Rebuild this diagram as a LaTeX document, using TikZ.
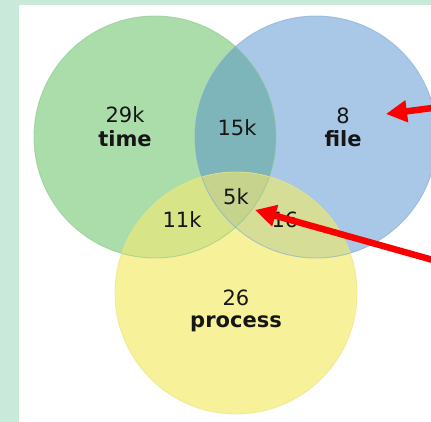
\documentclass[tikz,border=0pt]{standalone}
\usepackage{fontspec}
\setmainfont{DejaVu Sans}
\usetikzlibrary{arrows.meta}
\definecolor{bgside}{RGB}{201,233,218}
\definecolor{cg}{RGB}{171,221,171}
\definecolor{cb}{RGB}{169,200,232}
\definecolor{cy}{RGB}{247,242,154}
\definecolor{cgb}{RGB}{126,181,186}
\definecolor{cgy}{RGB}{216,228,136}
\definecolor{cby}{RGB}{213,221,150}
\definecolor{call}{RGB}{198,211,140}
\definecolor{eg}{RGB}{140,200,140}
\definecolor{eb}{RGB}{130,170,215}
\definecolor{ey}{RGB}{232,228,130}
\definecolor{txt}{RGB}{22,22,22}
\definecolor{arrowred}{RGB}{250,0,0}
\tikzset{
  vset/.style={circle, minimum size=242pt, inner sep=0pt, draw=#1, line width=0.9pt},
  cnt/.style={font=\fontsize{21}{23}\selectfont, text=txt, inner sep=0pt},
  lbl/.style={font=\fontsize{21}{23}\selectfont\bfseries, text=txt, inner sep=0pt},
  pointer/.style={draw=arrowred, line width=6.5pt, -{Triangle[length=21pt,width=21pt]}}
}
\def\cG{(155,137) circle[radius=121pt]}
\def\cB{(316,137) circle[radius=121pt]}
\def\cY{(236,293) circle[radius=121pt]}
\begin{document}
\begin{tikzpicture}[x=1pt,y=-1pt]
\useasboundingbox (0,0) rectangle (431,422);
\fill[bgside] (0,0) rectangle (431,422);
\fill[white] (19,5) rectangle (431,422);
\begin{scope}
\clip (19,5) rectangle (431,422);
\fill[cg] \cG;
\fill[cb] \cB;
\fill[cy] \cY;
\begin{scope}\clip \cG; \fill[cgb] \cB;\end{scope}
\begin{scope}\clip \cG; \fill[cgy] \cY;\end{scope}
\begin{scope}\clip \cB; \fill[cby] \cY;\end{scope}
\begin{scope}\clip \cG; \clip \cB; \fill[call] \cY;\end{scope}
\node[vset=eg, draw opacity=0.6] (time) at (155,137) {};
\node[vset=eb, draw opacity=0.6] (file) at (316,137) {};
\node[vset=ey, draw opacity=0.6] (process) at (236,293) {};
\end{scope}
\node[cnt] (n29) at (125,115) {29k};
\node[lbl] (ltime) at (125,139) {time};
\node[cnt] (n15) at (237,128) {15k};
\node[cnt] (n8) at (343,116) {8};
\node[lbl] (lfile) at (343,139) {file};
\node[cnt] (n5) at (236,197) {5k};
\node[cnt] (n11) at (182,220) {11k};
\node[cnt] (n16) at (285,220) {16};
\node[cnt] (n26) at (236,298) {26};
\node[lbl] (lproc) at (236,324) {process};
\coordinate (a1s) at (440,107);
\coordinate (a1e) at (386,114);
\coordinate (a2s) at (440,262);
\coordinate (a2e) at (255,210);
\draw[pointer] (a1s) -- (a1e);
\draw[pointer] (a2s) -- (a2e);
\end{tikzpicture}
\end{document}
